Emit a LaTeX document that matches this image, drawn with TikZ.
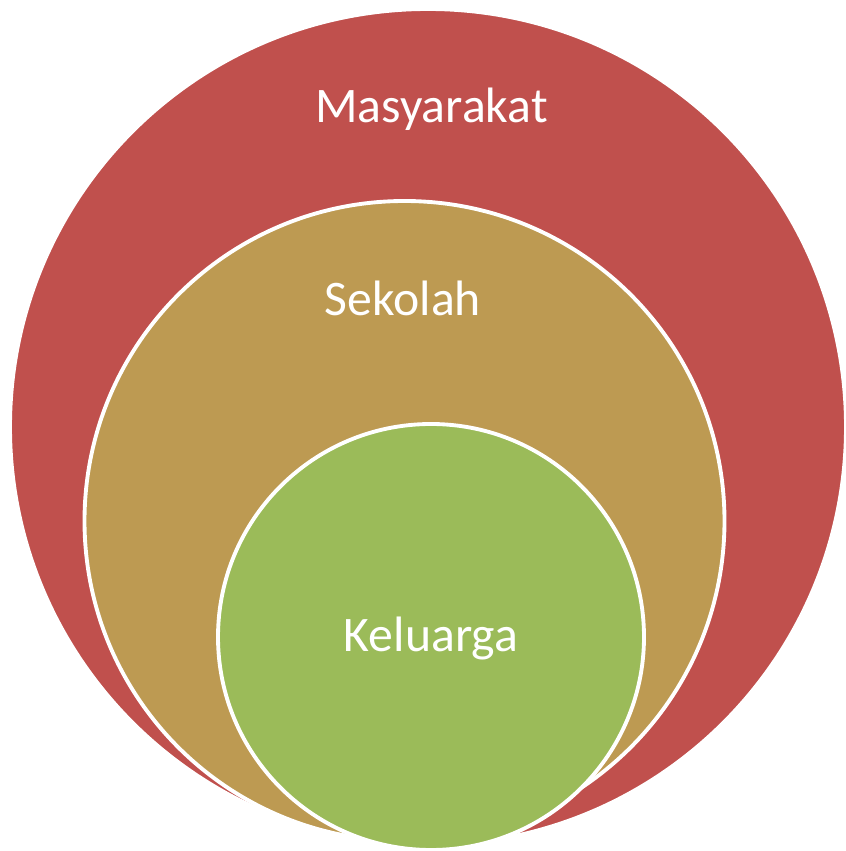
\documentclass[tikz,border=0pt]{standalone}
\usepackage{fontspec}
\setmainfont{Carlito}
\usepackage{tikz}

\definecolor{masyred}{RGB}{192,80,77}
\definecolor{sekotan}{RGB}{189,154,82}
\definecolor{kelugreen}{RGB}{155,187,89}

\begin{document}
\begin{tikzpicture}[scale=0.2]
      \tikzstyle{every node}+=[inner sep=0pt]
      \tikzstyle{ring}=[draw=white, line width=2.2pt]
      \tikzstyle{lbl}=[text=white, anchor=base, font=\fontsize{28.3pt}{32pt}\selectfont]
      \useasboundingbox (0,0) rectangle (84.6,85.1);
      \draw [ring, fill=masyred] (42.8,42.4) circle (41.8);
      \node [lbl] (masy) at (43.15,72.8) {Masyarakat};
      \draw [ring, fill=sekotan] (40.45,33.0) circle (32.0);
      \node [lbl] (seko) at (40.3,53.5) {Sekolah};
      \draw [ring, fill=kelugreen] (43.1,21.4) circle (21.3);
      \node [lbl] (kelu) at (43.1,19.9) {Keluarga};
    \end{tikzpicture}
\end{document}
